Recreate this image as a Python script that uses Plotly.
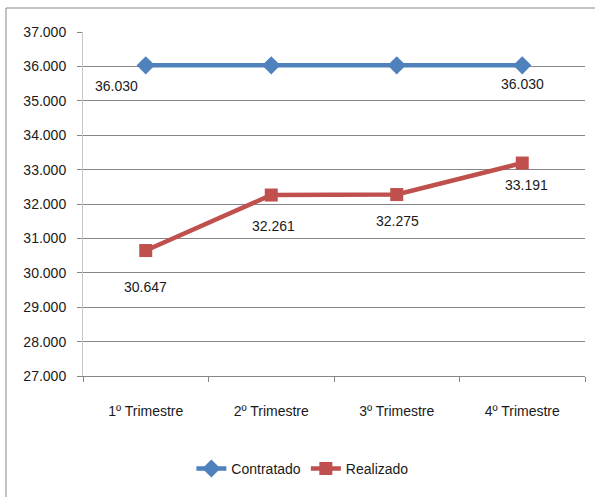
import plotly.graph_objects as go

categories = ["1º Trimestre", "2º Trimestre", "3º Trimestre", "4º Trimestre"]
contratado = [36030, 36030, 36030, 36030]
realizado = [30647, 32261, 32275, 33191]
y_ticks = [27000, 28000, 29000, 30000, 31000, 32000, 33000, 34000, 35000, 36000, 37000]

FONT = "Liberation Sans, Arial, sans-serif"
FS = 14

fig = go.Figure()
fig.add_trace(go.Scatter(
    x=categories, y=contratado, name="Contratado", mode="lines+markers",
    line=dict(color="#4F81BD", width=4.5),
    marker=dict(symbol="diamond", size=14, color="#4F81BD"),
))
fig.add_trace(go.Scatter(
    x=categories, y=realizado, name="Realizado", mode="lines+markers",
    line=dict(color="#C0504D", width=4.5),
    marker=dict(symbol="square", size=13, color="#C0504D"),
))

def fmt(v):
    return f"{v:,.0f}".replace(",", ".")

annotations = []
# Contratado labels: first and last only
c_idx = [0, 3]
c_shift = [(-29, -21), (0, -19)]
for i, (xs, ys) in zip(c_idx, c_shift):
    annotations.append(dict(x=categories[i], y=contratado[i], text=fmt(contratado[i]),
                            showarrow=False, xshift=xs, yshift=ys,
                            font=dict(family=FONT, size=FS, color="#1a1a1a")))
r_shift = [(0, -36), (2, -31), (1, -26), (4, -22)]
for i, (xs, ys) in enumerate(r_shift):
    annotations.append(dict(x=categories[i], y=realizado[i], text=fmt(realizado[i]),
                            showarrow=False, xshift=xs, yshift=ys,
                            font=dict(family=FONT, size=FS, color="#1a1a1a")))

L, R, T, B = 83, 10, 32, 121
W, H = 595, 497
pw, ph = W - L - R, H - T - B

fig.update_layout(
    width=W, height=H,
    margin=dict(l=L, r=R, t=T, b=B, autoexpand=False),
    paper_bgcolor="white", plot_bgcolor="white",
    separators=",.",
    font=dict(family=FONT, size=FS, color="#1a1a1a"),
    showlegend=True,
    legend=dict(orientation="h", x=0.437, xanchor="center", y=-0.27, yanchor="middle",
                font=dict(family=FONT, size=FS)),
    annotations=annotations,
    xaxis=dict(type="category", showgrid=False, showline=True, linecolor="#868686",
               linewidth=1, ticks="outside", tickson="boundaries", ticklen=5,
               tickcolor="#868686", ticklabelstandoff=22, range=[-0.5, 3.5],
               automargin=False),
    yaxis=dict(range=[27000, 37000], tickvals=y_ticks, tickformat=",.0f",
               showgrid=True, gridcolor="#868686", gridwidth=1,
               showline=True, linecolor="#C8C8C8", ticks="outside", ticklen=5,
               tickcolor="#868686", ticklabelstandoff=8, zeroline=False,
               automargin=False),
    shapes=[dict(type="rect", xref="paper", yref="paper",
                 x0=(6 - L) / pw, x1=(W + 20 - L) / pw,
                 y0=-(H + 20 - T - ph) / ph, y1=(ph + T - 8) / ph,
                 line=dict(color="#888888", width=1), fillcolor="rgba(0,0,0,0)",
                 layer="below")],
)

fig.write_html("out.html", config={"displayModeBar": False},
               post_script="document.body.style.margin='0';")
